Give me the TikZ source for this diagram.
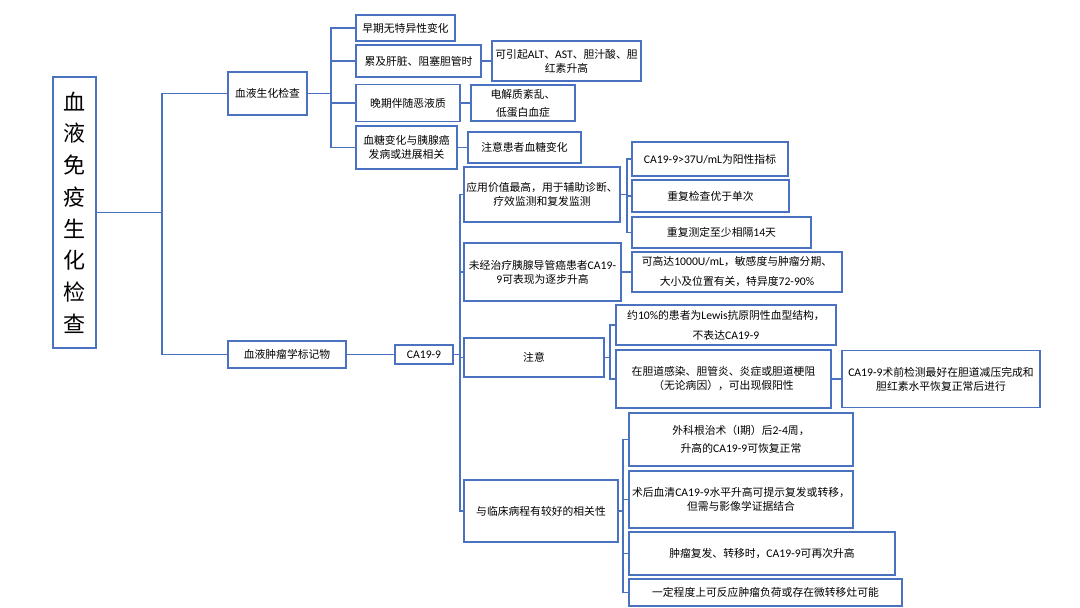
\documentclass[tikz,border=0pt]{standalone}
\usepackage{fontspec}
\newfontfamily\cjk{Noto Sans CJK SC}
\newfontfamily\lat[Scale=1.08]{Carlito}
\newcommand\lt[1]{{\lat #1}}
\definecolor{bl}{HTML}{4A72C0}
\begin{document}
\begin{tikzpicture}[x=1pt,y=-1pt,
  bx/.style={draw=bl, line width=1.7pt, inner sep=0pt, align=center, text=black,
    font=\cjk\fontsize{10.8}{14}\selectfont},
  ln/.style={draw=bl, line width=1.3pt}]
\useasboundingbox (0,0) rectangle (1080,608);
\fill[white] (0,0) rectangle (1080,608);
% root and level 1
\node[bx, minimum width=43, minimum height=271, font=\cjk\fontsize{22}{31.7}\selectfont] (root) at (74.5,212.5) {血\\液\\免\\疫\\生\\化\\检\\查};
\node[bx, minimum width=79, minimum height=43] (bc) at (267.5,93.5) {血液生化检查};
\node[bx, minimum width=118, minimum height=27] (tm) at (287,354.5) {血液肿瘤学标记物};
\node[bx, minimum width=58, minimum height=19] (ca) at (424,354.5) {\lt{CA19-9}};
% blood chemistry
\node[bx, minimum width=99, minimum height=26] (b1) at (405.5,28) {早期无特异性变化};
\node[bx, minimum width=125, minimum height=32] (b2) at (418.5,61) {累及肝脏、阻塞胆管时};
\node[bx, minimum width=149, minimum height=40] (b2a) at (566.5,61) {可引起\lt{ALT}、\lt{AST}、胆汁酸、胆\\红素升高};
\node[bx, minimum width=104, minimum height=37] (b3) at (408,103) {晚期伴随恶液质};
\node[bx, minimum width=104, minimum height=36] (b3a) at (523,103) {电解质紊乱、\\[4pt]低蛋白血症};
\node[bx, minimum width=101, minimum height=43] (b4) at (406.5,147.5) {血糖变化与胰腺癌\\发病或进展相关};
\node[bx, minimum width=113, minimum height=31] (b4a) at (524.5,147.5) {注意患者血糖变化};
% CA19-9 branches
\node[bx, minimum width=156, minimum height=55] (c1) at (542,194.5) {应用价值最高，用于辅助诊断、\\疗效监测和复发监测};
\node[bx, minimum width=156, minimum height=34] (c1a) at (710,159) {\lt{CA19-9>37U/mL}为阳性指标};
\node[bx, minimum width=157, minimum height=32] (c1b) at (710.5,196) {重复检查优于单次};
\node[bx, minimum width=179, minimum height=31] (c1c) at (721.5,232.5) {重复测定至少相隔\lt{14}天};
\node[bx, minimum width=157, minimum height=58] (c2) at (542.5,272) {未经治疗胰腺导管癌患者\lt{CA19-}\\\lt{9}可表现为逐步升高};
\node[bx, minimum width=210, minimum height=40] (c2a) at (737,272) {可高达\lt{1000U/mL}，敏感度与肿瘤分期、\\[6pt]大小及位置有关，特异度\lt{72-90\%}};
\node[bx, minimum width=140, minimum height=39] (c3) at (534,357.5) {注意};
\node[bx, minimum width=220, minimum height=40] (c3a) at (726,325) {约\lt{10\%}的患者为\lt{Lewis}抗原阴性血型结构，\\[6pt]不表达\lt{CA19-9}};
\node[bx, minimum width=215, minimum height=58] (c3b) at (723.5,379) {在胆道感染、胆管炎、炎症或胆道梗阻\\（无论病因），可出现假阳性};
\node[bx, minimum width=198, minimum height=57] (c3c) at (941,379) {\lt{CA19-9}术前检测最好在胆道减压完成和\\胆红素水平恢复正常后进行};
\node[bx, minimum width=154, minimum height=62] (c4) at (541,511) {与临床病程有较好的相关性};
\node[bx, minimum width=224, minimum height=53] (c4a) at (741,439.5) {外科根治术（\lt{I}期）后\lt{2-4}周，\\[4pt]升高的\lt{CA19-9}可恢复正常};
\node[bx, minimum width=224, minimum height=57] (c4b) at (741,499.5) {术后血清\lt{CA19-9}水平升高可提示复发或转移，\\但需与影像学证据结合};
\node[bx, minimum width=266, minimum height=43] (c4c) at (762,553.5) {肿瘤复发、转移时，\lt{CA19-9}可再次升高};
\node[bx, minimum width=273, minimum height=27] (c4d) at (765.5,592.5) {一定程度上可反应肿瘤负荷或存在微转移灶可能};
% junction coordinates
\coordinate (j0) at (162,0);
\coordinate (j1) at (331,0);
\coordinate (j2) at (460,0);
\coordinate (j3) at (627,0);
\coordinate (j4) at (610,0);
\coordinate (j5) at (623,0);
% connectors
\draw[ln] (root.east) -- (root.east -| j0);
\draw[ln] (bc.west) -| (j0 |- tm.west) -- (tm.west);
\draw[ln] (bc.east) -- (bc.east -| j1);
\draw[ln] (b1.west) -| (j1 |- b4.west) -- (b4.west);
\draw[ln] (j1 |- b2.west) -- (b2.west);
\draw[ln] (j1 |- b3.west) -- (b3.west);
\draw[ln] (b2.east) -- (b2a.west);
\draw[ln] (b3.east) -- (b3a.west);
\draw[ln] (b4.east) -- (b4a.west);
\draw[ln] (tm.east) -- (ca.west);
\draw[ln] (ca.east) -- (ca.east -| j2);
\draw[ln] (c1.west) -| (j2 |- c4.west) -- (c4.west);
\draw[ln] (j2 |- c2.west) -- (c2.west);
\draw[ln] (j2 |- c3.west) -- (c3.west);
\draw[ln] (c1.east) -- (c1.east -| j3);
\draw[ln] (c1a.west) -| (j3 |- c1c.west) -- (c1c.west);
\draw[ln] (j3 |- c1b.west) -- (c1b.west);
\draw[ln] (c2.east) -- (c2a.west);
\draw[ln] (c3.east) -- (c3.east -| j4);
\draw[ln] (c3a.west) -| (j4 |- c3b.west) -- (c3b.west);
\draw[ln] (c3b.east) -- (c3c.west);
\draw[ln] (c4.east) -- (c4.east -| j5);
\draw[ln] (c4a.west) -| (j5 |- c4d.west) -- (c4d.west);
\draw[ln] (j5 |- c4b.west) -- (c4b.west);
\draw[ln] (j5 |- c4c.west) -- (c4c.west);
\end{tikzpicture}
\end{document}
